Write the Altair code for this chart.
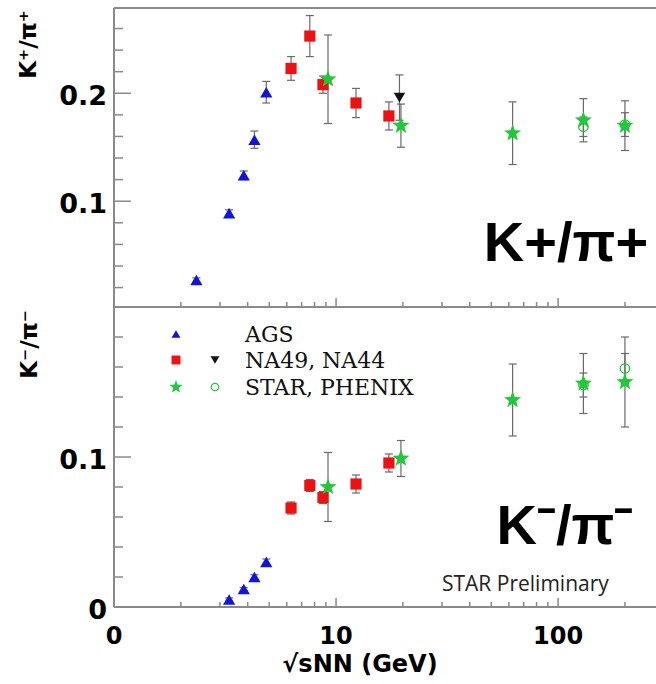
import altair as alt
import pandas as pd

# ---------------- data ----------------
# K+/pi+ (upper panel)
ags_x_kp = [2.35, 3.3, 3.84, 4.29, 4.85]
ags_kp = [0.027, 0.089, 0.124, 0.157, 0.201]
ags_kp_err = [0.002, 0.003, 0.004, 0.008, 0.010]

na49_x = [6.27, 7.62, 8.73, 12.3, 17.3]
na49_kp = [0.223, 0.253, 0.208, 0.191, 0.179]
na49_kp_err = [0.011, 0.019, 0.008, 0.0135, 0.013]

na44_x = [19.3]
na44_kp = [0.196]
na44_kp_err = [0.021]

star_x = [9.2, 19.6, 62.4, 130.0, 200.0]
star_kp = [0.213, 0.170, 0.163, 0.175, 0.170]
star_kp_err = [0.041, 0.020, 0.029, 0.020, 0.023]

phenix_x = [130.0, 200.0]
phenix_kp = [0.169, 0.171]
phenix_kp_err = [0.009, 0.011]

# K-/pi- (lower panel)
ags_x_km = [3.3, 3.84, 4.29, 4.85]
ags_km = [0.005, 0.012, 0.020, 0.030]
ags_km_err = [0.001, 0.001, 0.0015, 0.002]

na49_km = [0.066, 0.081, 0.073, 0.082, 0.096]
na49_km_err = [0.004, 0.004, 0.004, 0.006, 0.006]

star_km = [0.080, 0.099, 0.138, 0.149, 0.150]
star_km_err = [0.023, 0.012, 0.024, 0.020, 0.030]

phenix_km = [0.148, 0.159]
phenix_km_err = [0.008, 0.010]

# axes / ticks
x_domain = [1, 276]
x_label_values = [1, 10, 100]
x_label_texts = ["0", "10", "100"]
x_major_ticks = [10, 100]
x_minor_ticks = [2, 3, 4, 5, 6, 7, 8, 9, 20, 30, 40, 50, 60, 70, 80, 90, 200]

top_domain = [0.002, 0.279]
top_label_values = [0.1, 0.2]
top_label_texts = ["0.1", "0.2"]
top_major_ticks = [0.1, 0.2]
top_minor_ticks = [0.02, 0.04, 0.06, 0.08, 0.12, 0.14, 0.16, 0.18, 0.22, 0.24, 0.26]

bot_domain = [0.0, 0.2]
bot_label_values = [0.0, 0.1]
bot_label_texts = ["0", "0.1"]
bot_major_ticks = [0.1]
bot_minor_ticks = [0.02, 0.04, 0.06, 0.08, 0.12, 0.14, 0.16, 0.18]

legend_names = ["AGS", "NA49, NA44", "STAR, PHENIX"]

# ---------------- styling ----------------
W = 542
H_TOP = 299
H = 599
BLUE = "#1414d8"
RED = "#ee1111"
GREEN = "#22c83c"
BLACK = "#111111"
ERR = "#6a6a6a"
FRAME = "#8a8a8a"
TICK_FONT = "DejaVu Sans"
BIG_FONT = "Liberation Sans"
SERIF = "DejaVu Serif"

r = 0.42
STAR_PATH = (
    "M0,-1L{a},{b}L0.9511,-0.309L{c},{d}L0.5878,0.809L0,{r}"
    "L-0.5878,0.809L-{c},{d}L-0.9511,-0.309L-{a},{b}Z"
).format(a=round(0.5878 * r, 4), b=round(-0.809 * r, 4),
         c=round(0.9511 * r, 4), d=round(0.309 * r, 4), r=r)

STYLES = {
    "AGS": dict(shape="triangle-up", filled=True, color=BLUE, size=150),
    "NA49": dict(shape="square", filled=True, color=RED, size=125),
    "NA44": dict(shape="triangle-down", filled=True, color=BLACK, size=130),
    "STAR": dict(shape=STAR_PATH, filled=True, color=GREEN, size=320),
    "PHENIX": dict(shape="circle", filled=False, color=GREEN, size=90, strokeWidth=1.3),
}
ORDER = ["AGS", "NA49", "NA44", "STAR", "PHENIX"]


def series_df(x, y, e, name):
    return pd.DataFrame({
        "x": x, "y": y,
        "lo": [a - b for a, b in zip(y, e)],
        "hi": [a + b for a, b in zip(y, e)],
        "series": name,
    })


top_df = pd.concat([
    series_df(ags_x_kp, ags_kp, ags_kp_err, "AGS"),
    series_df(na49_x, na49_kp, na49_kp_err, "NA49"),
    series_df(na44_x, na44_kp, na44_kp_err, "NA44"),
    series_df(star_x, star_kp, star_kp_err, "STAR"),
    series_df(phenix_x, phenix_kp, phenix_kp_err, "PHENIX"),
], ignore_index=True)

bot_df = pd.concat([
    series_df(ags_x_km, ags_km, ags_km_err, "AGS"),
    series_df(na49_x, na49_km, na49_km_err, "NA49"),
    series_df(star_x, star_km, star_km_err, "STAR"),
    series_df(phenix_x, phenix_km, phenix_km_err, "PHENIX"),
], ignore_index=True)

XS = alt.Scale(type="log", domain=x_domain, nice=False)


def panel(df, domain, rng, maj, mnr, lab_vals, lab_txt):
    ys = alt.Scale(domain=domain, range=rng, nice=False, zero=False)
    X = alt.X("x:Q", scale=XS, axis=None)
    base = alt.Chart(df)
    layers = [
        base.mark_rule(color=ERR, strokeWidth=1.2).encode(
            X, alt.Y("lo:Q", scale=ys, axis=None), alt.Y2("hi:Q")),
        base.mark_tick(orient="horizontal", size=8, thickness=1.2, color=ERR, opacity=1).encode(
            X, alt.Y("lo:Q", scale=ys, axis=None)),
        base.mark_tick(orient="horizontal", size=8, thickness=1.2, color=ERR, opacity=1).encode(
            X, alt.Y("hi:Q", scale=ys, axis=None)),
    ]
    for name in ORDER:
        if (df["series"] == name).any():
            layers.append(
                base.transform_filter(alt.datum.series == name)
                .mark_point(opacity=1, **STYLES[name])
                .encode(X, alt.Y("y:Q", scale=ys, axis=None))
            )
    # y ticks (inward)
    layers.append(alt.Chart(pd.DataFrame({"v": maj})).mark_rule(color=FRAME, strokeWidth=1.5).encode(
        y=alt.Y("v:Q", scale=ys, axis=None), x=alt.value(0), x2=alt.value(17)))
    layers.append(alt.Chart(pd.DataFrame({"v": mnr})).mark_rule(color=FRAME, strokeWidth=1.5).encode(
        y=alt.Y("v:Q", scale=ys, axis=None), x=alt.value(0), x2=alt.value(9)))
    # x ticks at the bottom of this panel (inward)
    layers.append(alt.Chart(pd.DataFrame({"v": x_major_ticks})).mark_rule(color=FRAME, strokeWidth=1.5).encode(
        x=alt.X("v:Q", scale=XS, axis=None), y=alt.value(rng[0]), y2=alt.value(rng[0] - 9)))
    layers.append(alt.Chart(pd.DataFrame({"v": x_minor_ticks})).mark_rule(color=FRAME, strokeWidth=1.5).encode(
        x=alt.X("v:Q", scale=XS, axis=None), y=alt.value(rng[0]), y2=alt.value(rng[0] - 5)))
    # y tick labels
    layers.append(alt.Chart(pd.DataFrame({"v": lab_vals, "t": lab_txt})).mark_text(
        align="right", baseline="middle", font=TICK_FONT, fontSize=27, fontWeight="bold",
        color="black", dy=4).encode(
        y=alt.Y("v:Q", scale=ys, axis=None), x=alt.value(-7), text="t:N"))
    return layers


top_layers = panel(top_df, top_domain, [H_TOP, 0], top_major_ticks, top_minor_ticks,
                   top_label_values, top_label_texts)
bot_layers = panel(bot_df, bot_domain, [H, H_TOP], bot_major_ticks, bot_minor_ticks,
                   bot_label_values, bot_label_texts)

one = pd.DataFrame({"a": [0]})

# x tick labels
x_labels = alt.Chart(pd.DataFrame({"v": x_label_values, "t": x_label_texts})).mark_text(
    align="center", baseline="middle", font=TICK_FONT, fontSize=24, fontWeight="bold", color="black"
).encode(x=alt.X("v:Q", scale=XS, axis=None), y=alt.value(H + 30), text="t:N")

# frame
frame = [
    alt.Chart(one).mark_rule(color=FRAME, strokeWidth=2).encode(
        x=alt.value(0), y=alt.value(0), y2=alt.value(H)),
    alt.Chart(one).mark_rule(color=FRAME, strokeWidth=2).encode(
        y=alt.value(0), x=alt.value(0), x2=alt.value(W + 6)),
    alt.Chart(one).mark_rule(color=FRAME, strokeWidth=2).encode(
        y=alt.value(H_TOP), x=alt.value(0), x2=alt.value(W + 6)),
    alt.Chart(one).mark_rule(color=FRAME, strokeWidth=2).encode(
        y=alt.value(H), x=alt.value(0), x2=alt.value(W + 6)),
]

# annotations
texts = [
    alt.Chart(one).mark_text(text="K+/π+", align="center", baseline="middle", font=BIG_FONT,
                             fontSize=56, fontWeight="bold", color="black").encode(
        x=alt.value(452), y=alt.value(236)),
    alt.Chart(one).mark_text(text="K⁻/π⁻", align="center", baseline="middle", font=BIG_FONT,
                             fontSize=56, fontWeight="bold", color="black").encode(
        x=alt.value(451), y=alt.value(519)),
    alt.Chart(one).mark_text(text="STAR Preliminary", align="left", baseline="middle",
                             font="Open Sans", fontSize=21, color="#222222").encode(
        x=alt.value(328), y=alt.value(577)),
    alt.Chart(one).mark_text(text="K⁺/π⁺", align="right", baseline="middle", angle=270,
                             font=TICK_FONT, fontSize=23, fontWeight="bold", color="black").encode(
        x=alt.value(-85), y=alt.value(2)),
    alt.Chart(one).mark_text(text="K⁻/π⁻", align="right", baseline="middle", angle=270,
                             font=TICK_FONT, fontSize=23, fontWeight="bold", color="black").encode(
        x=alt.value(-84), y=alt.value(302)),
    alt.Chart(one).mark_text(text="√sNN (GeV)", align="center", baseline="middle",
                             font=TICK_FONT, fontSize=24, fontWeight="bold", color="black").encode(
        x=alt.value(246), y=alt.value(657)),
]

# legend (drawn by hand: two symbol columns)
leg_sym = [
    ("AGS", 62, 326, dict(shape="triangle-up", filled=True, color=BLUE, size=80)),
    ("NA49", 62, 352, dict(shape="square", filled=True, color=RED, size=80)),
    ("STAR", 62, 379, dict(shape=STAR_PATH, filled=True, color=GREEN, size=190)),
    ("NA44", 101, 352, dict(shape="triangle-down", filled=True, color=BLACK, size=80)),
    ("PHENIX", 101, 379, dict(shape="circle", filled=False, color=GREEN, size=55, strokeWidth=1.2)),
]
legend = []
for _, lx, ly, st in leg_sym:
    legend.append(alt.Chart(one).mark_point(opacity=1, **st).encode(x=alt.value(lx), y=alt.value(ly)))
for name, ly in zip(legend_names, [327, 353, 380]):
    legend.append(alt.Chart(one).mark_text(text=name, align="left", baseline="middle", font=SERIF,
                                           fontSize=22, color="#111111").encode(
        x=alt.value(131), y=alt.value(ly)))

chart = alt.layer(*top_layers, *bot_layers, x_labels, *frame, *texts, *legend).resolve_scale(
    y="independent"
).properties(
    width=W, height=H,
    autosize=alt.AutoSizeParams(type="none"),
    padding={"left": 114, "top": 8, "right": 0, "bottom": 77},
).configure_view(stroke=None)

chart.save("out.html", embed_options={"renderer": "svg", "actions": False})
